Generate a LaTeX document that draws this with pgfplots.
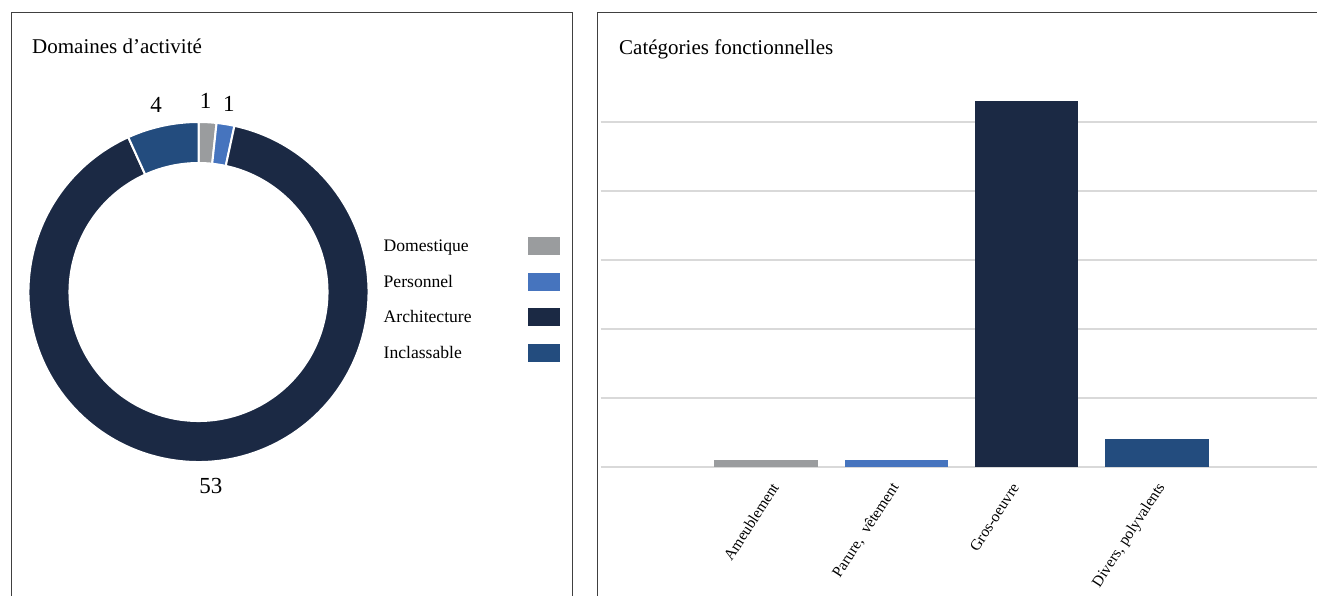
\documentclass[border=0pt]{standalone}
\usepackage{pgfplots}
\pgfplotsset{compat=1.18}
\usepackage{pgfplotstable}
\usepackage{fontspec}
\setmainfont{Liberation Serif}
\definecolor{cdom}{HTML}{9A9C9E}
\definecolor{cper}{HTML}{4674BE}
\definecolor{carc}{HTML}{1B2944}
\definecolor{cinc}{HTML}{234C7E}
\definecolor{cgrid}{HTML}{D9D9D9}
\definecolor{cframe}{HTML}{404040}

\pgfplotstableread{
dom val
Domestique 1
Personnel 1
Architecture 53
Inclassable 4
}\donut
\pgfplotstablegetelem{0}{val}\of\donut\pgfmathsetmacro{\vA}{\pgfplotsretval}
\pgfplotstablegetelem{1}{val}\of\donut\pgfmathsetmacro{\vB}{\pgfplotsretval}
\pgfplotstablegetelem{2}{val}\of\donut\pgfmathsetmacro{\vC}{\pgfplotsretval}
\pgfplotstablegetelem{3}{val}\of\donut\pgfmathsetmacro{\vD}{\pgfplotsretval}
\pgfmathsetmacro{\tot}{\vA+\vB+\vC+\vD}
\pgfmathsetmacro{\deg}{360/\tot}
\pgfmathsetmacro{\aA}{90}
\pgfmathsetmacro{\aB}{\aA-\deg*\vA}
\pgfmathsetmacro{\aC}{\aB-\deg*\vB}
\pgfmathsetmacro{\aD}{\aC-\deg*\vC}
\pgfmathsetmacro{\aE}{\aD-\deg*\vD}
\pgfmathsetmacro{\mA}{(\aA+\aB)/2}
\pgfmathsetmacro{\mB}{(\aB+\aC)/2}
\pgfmathsetmacro{\mC}{(\aC+\aD)/2}
\pgfmathsetmacro{\mD}{(\aD+\aE)/2}

\newcommand\sector[3]{%
  \filldraw[fill=#1, draw=white, line width=2pt]
    (axis cs:{170*cos(#2)},{170*sin(#2)}) arc[start angle=#2, end angle=#3, radius=170pt]
    -- (axis cs:{129*cos(#3)},{129*sin(#3)}) arc[start angle=#3, end angle=#2, radius=129pt] -- cycle;}
\newcommand\dlabel[3][]{%
  \node[font=\fontsize{23}{23}\selectfont, inner sep=0pt, #1] at (axis cs:{191*cos(#2)},{191*sin(#2)}) {#3};}

\begin{document}
\begin{tikzpicture}[x=1pt,y=1pt]
\useasboundingbox (0,0) rectangle (1317,595);
\clip (0,0) rectangle (1317,595);
% frames
\draw[cframe, line width=1pt] (11,-10) -- (11,582) -- (572,582) -- (572,-10);
\draw[cframe, line width=1pt] (597,-10) -- (597,582) -- (1330,582);
% titles
\node[anchor=base west, font=\fontsize{21}{21}\selectfont, inner sep=0pt] at (32,541) {Domaines d’activité};
\node[anchor=base west, font=\fontsize{21}{21}\selectfont, inner sep=0pt] at (619,540) {Catégories fonctionnelles};

% donut
\begin{axis}[at={(198.5pt,303pt)}, anchor=origin, x=1pt, y=1pt,
  xmin=-195, xmax=195, ymin=-195, ymax=195, hide axis, clip=false,
  legend plot pos=right,
  legend image code/.code={\path[fill=none, draw=none] (0pt,0pt); \fill[#1, draw=none] (54pt,-9pt) rectangle (86pt,9pt);},
  legend style={at={(axis cs:180,57)}, anchor=north west, draw=none, fill=none,
    font=\fontsize{17.6}{20}\selectfont, row sep=17.5pt, cells={anchor=west}},
  ]
\addlegendimage{fill=cdom, draw=none}\addlegendentry{Domestique}
\addlegendimage{fill=cper, draw=none}\addlegendentry{Personnel}
\addlegendimage{fill=carc, draw=none}\addlegendentry{Architecture}
\addlegendimage{fill=cinc, draw=none}\addlegendentry{Inclassable}
\sector{cdom}{\aA}{\aB}
\sector{cper}{\aB}{\aC}
\sector{carc}{\aC}{\aD}
\sector{cinc}{\aD}{\aE}
\dlabel[xshift=-3pt]{\mA}{1}
\dlabel{\mB}{1}
\dlabel[xshift=-8pt, yshift=-4pt]{\mC}{53}
\dlabel[xshift=-2pt]{\mD}{4}
\end{axis}

% bars
\begin{axis}[at={(600.5pt,128pt)}, anchor=south west, x=130.3pt, y=6.9pt,
  xmin=-1.27, xmax=4.27, ymin=0, ymax=55,
  ybar, bar width=103.5pt, bar shift=0pt,
  axis line style={draw=none},
  ytick={0,10,...,50}, yticklabels={},
  ymajorgrids, grid style={cgrid, line width=1.2pt},
  major tick length=0pt,
  xtick={0,0.925,1.845,2.97},
  xticklabels={Ameublement,{Parure,\ \ vêtement},Gros-oeuvre,{Divers, polyvalents}},
  x tick label style={xshift=11pt, yshift=-15pt, rotate=57, anchor=east, font=\fontsize{15.5}{15.5}\selectfont},
  clip=false]
\addplot[fill=cdom, draw=none] coordinates {(0,1)};
\addplot[fill=cper, draw=none] coordinates {(1,1)};
\addplot[fill=carc, draw=none] coordinates {(2,53)};
\addplot[fill=cinc, draw=none] coordinates {(3,4)};
\end{axis}
\end{tikzpicture}
\end{document}
